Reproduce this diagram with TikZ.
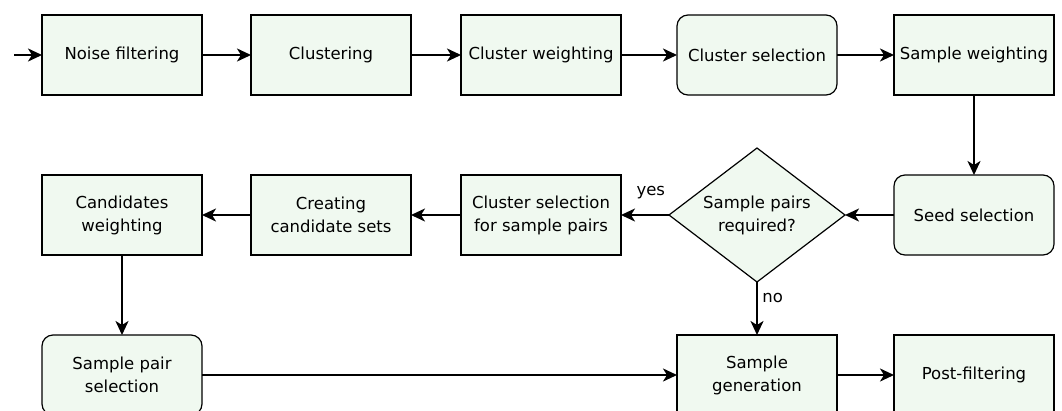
\documentclass[tikz,border=0pt]{standalone}
\usepackage{fontspec}
\setmainfont{DejaVu Sans}
\usepackage{tikz}
\usetikzlibrary{arrows.meta,shapes,positioning,calc}

\definecolor{boxfill}{RGB}{240,249,240}

\begin{document}
\begin{tikzpicture}[
    x=1pt, y=-1pt,
    >={Stealth[length=14pt,width=13pt,inset=4pt]},
    node distance=80pt and 53pt,
    process/.style={
        draw,
        line width=1.2pt,
        outer sep=0pt,
        fill=boxfill,
        align=center,
        minimum width=160pt,
        minimum height=80pt,
        font=\fontsize{16.5}{23}\selectfont
    },
    roundproc/.style={process, rounded corners=11pt},
    decision/.style={
        draw,
        diamond,
        aspect=1.5,
        line width=1.2pt,
        outer sep=0pt,
        fill=boxfill,
        align=center,
        inner sep=0pt,
        minimum width=176pt,
        minimum height=134pt,
        font=\fontsize{16.5}{23}\selectfont
    },
    flow/.style={->, line width=2pt},
    tag/.style={font=\fontsize{16.5}{23}\selectfont}
]
\useasboundingbox (0,0) rectangle (1062,410);

% top row
\node[process] (noise) at (122,55) {Noise filtering};
\node[process, right=49pt of noise] (clust) {Clustering};
\node[process, right=50pt of clust] (cweight) {Cluster weighting};
\node[roundproc, right=56pt of cweight] (csel) {Cluster selection};
\node[process, right=57pt of csel] (sweight) {Sample weighting};

% middle row
\node[roundproc, below=of sweight] (seed) {Seed selection};
\node[decision] (pairs) at (csel |- seed) {Sample pairs\\required?};
\node[process] (pairclust) at (cweight |- seed) {Cluster selection\\for sample pairs};
\node[process] (candsets) at (clust |- seed) {Creating\\candidate sets};
\node[process] (candweight) at (noise |- seed) {Candidates\\weighting};

% bottom row
\node[roundproc, below=of candweight] (pairsel) {Sample pair\\selection};
\node[process] (gen) at (pairs |- pairsel) {Sample\\generation};
\node[process] (post) at (sweight |- pairsel) {Post-filtering};

\coordinate (start) at (14,55);

\draw[flow] (start) -- (noise);
\draw[flow] (noise) -- (clust);
\draw[flow] (clust) -- (cweight);
\draw[flow] (cweight) -- (csel);
\draw[flow] (csel) -- (sweight);
\draw[flow] (sweight) -- (seed);
\draw[flow] (seed) -- (pairs);
\draw[flow] (pairs) -- node[tag, pos=0.38, above=12pt] {yes} (pairclust);
\draw[flow] (pairclust) -- (candsets);
\draw[flow] (candsets) -- (candweight);
\draw[flow] (candweight) -- (pairsel);
\draw[flow] (pairsel) -- (gen);
\draw[flow] (pairs) -- node[tag, pos=0.3, right=1pt] {no} (gen);
\draw[flow] (gen) -- (post);

\end{tikzpicture}
\end{document}
